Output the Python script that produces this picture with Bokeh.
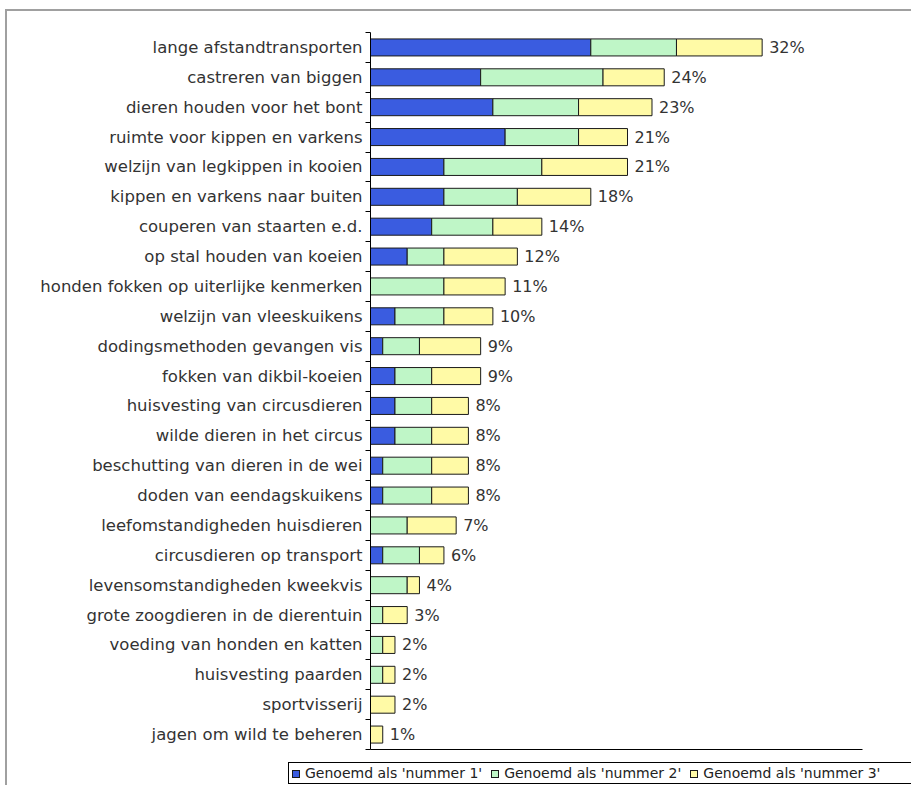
from bokeh.plotting import figure
from bokeh.models import ColumnDataSource, Range1d, FixedTicker, Div
from bokeh.layouts import column
from bokeh.core.properties import value
from bokeh.embed import file_html
from bokeh.resources import INLINE

categories = [
    "lange afstandtransporten",
    "castreren van biggen",
    "dieren houden voor het bont",
    "ruimte voor kippen en varkens",
    "welzijn van legkippen in kooien",
    "kippen en varkens naar buiten",
    "couperen van staarten e.d.",
    "op stal houden van koeien",
    "honden fokken op uiterlijke kenmerken",
    "welzijn van vleeskuikens",
    "dodingsmethoden gevangen vis",
    "fokken van dikbil-koeien",
    "huisvesting van circusdieren",
    "wilde dieren in het circus",
    "beschutting van dieren in de wei",
    "doden van eendagskuikens",
    "leefomstandigheden huisdieren",
    "circusdieren op transport",
    "levensomstandigheden kweekvis",
    "grote zoogdieren in de dierentuin",
    "voeding van honden en katten",
    "huisvesting paarden",
    "sportvisserij",
    "jagen om wild te beheren",
]
nummer1 = [18, 9, 10, 11, 6, 6, 5, 3, 0, 2, 1, 2, 2, 2, 1, 1, 0, 1, 0, 0, 0, 0, 0, 0]
nummer2 = [7, 10, 7, 6, 8, 6, 5, 3, 6, 4, 3, 3, 3, 3, 4, 4, 3, 3, 3, 1, 1, 1, 0, 0]
nummer3 = [7, 5, 6, 4, 7, 6, 4, 6, 5, 4, 5, 4, 3, 3, 3, 3, 4, 2, 1, 2, 1, 1, 2, 1]
total_labels = ["32%", "24%", "23%", "21%", "21%", "18%", "14%", "12%", "11%", "10%",
                "9%", "9%", "8%", "8%", "8%", "8%", "7%", "6%", "4%", "3%", "2%", "2%",
                "2%", "1%"]
series_names = ["Genoemd als 'nummer 1'", "Genoemd als 'nummer 2'", "Genoemd als 'nummer 3'"]
colors = ["#3a5ce0", "#bff6c7", "#fffaa6"]

n = len(categories)
ypos = [i + 0.5 for i in range(n)]
ends = [a + b + c for a, b, c in zip(nummer1, nummer2, nummer3)]
source = ColumnDataSource(dict(y=ypos, n1=nummer1, n2=nummer2, n3=nummer3,
                               end=ends, lab=total_labels, cat=categories))

FONT = "DejaVu Sans"
OUTLINE = "#1a1a1a"

p = figure(width=904, height=746, output_backend="svg", toolbar_location=None,
           x_range=Range1d(0, 40.2), y_range=Range1d(n, 0),
           min_border_left=363, min_border_right=49, min_border_top=21,
           min_border_bottom=8)
p.outline_line_color = None
p.xgrid.grid_line_color = None
p.ygrid.grid_line_color = None
p.background_fill_color = "white"
p.border_fill_color = "white"

p.hbar_stack(["n1", "n2", "n3"], y="y", height=0.57, color=colors,
             line_color=OUTLINE, line_width=1, source=source)

p.text(x="end", y="y", text="lab", source=source, x_offset=7,
       text_align="left", text_baseline="middle",
       text_font=value(FONT), text_font_size="16px", text_color="#333333")

# y axis: labels at category centres, ticks at category boundaries
yax = p.yaxis[0]
yax.ticker = FixedTicker(ticks=ypos, minor_ticks=list(range(n + 1)))
yax.major_label_overrides = {y: c for y, c in zip(ypos, categories)}
yax.major_tick_line_color = None
yax.major_tick_in = 0
yax.major_tick_out = 0
yax.minor_tick_in = 0
yax.minor_tick_out = 5
yax.minor_tick_line_color = "black"
yax.axis_line_color = "black"
yax.major_label_standoff = 3
yax.major_label_text_font = FONT
yax.major_label_text_font_size = "16.5px"
yax.major_label_text_color = "#333333"

xax = p.xaxis[0]
xax.ticker = FixedTicker(ticks=[])
xax.major_tick_line_color = None
xax.minor_tick_line_color = None
xax.axis_line_color = "black"
xax.major_label_standoff = 0
xax.major_label_text_font_size = "0px"

# legend strip below the chart (HTML text)
entries = []
for name, col in zip(series_names, colors):
    entries.append(
        '<span style="display:inline-block;width:8px;height:8px;'
        f'background:{col};border:1px solid {OUTLINE};margin-right:5px;'
        'vertical-align:0px;"></span>'
        f'<span style="margin-right:9px;">{name}</span>'
    )
legend_html = (
    '<div style="position:absolute;left:281px;right:0px;top:5px;border:1px solid black;'
    "border-right:none;padding:1px 0px 1px 3px;font-family:'DejaVu Sans';font-size:14px;"
    'color:#222222;white-space:nowrap;line-height:18px;background:white;">'
    + "".join(entries) + "</div>"
)
legend_div = Div(text=legend_html, width=904, height=28,
                 styles={"position": "relative", "margin": "0", "padding": "0"})

layout = column(p, legend_div, spacing=0,
                styles={"margin-left": "5px", "margin-top": "9px",
                        "border-left": "2px solid #a0a0a0",
                        "border-top": "2px solid #a0a0a0"})

open("out.html", "w").write(file_html(layout, INLINE))
